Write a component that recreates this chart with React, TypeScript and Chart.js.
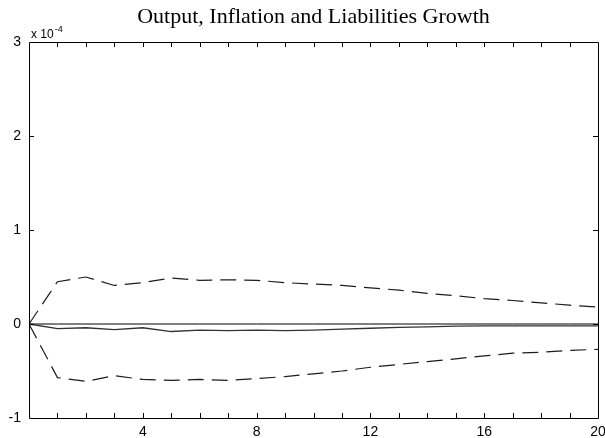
import React, { useEffect, useRef } from 'react';
import { Chart, registerables } from 'chart.js';

Chart.register(...registerables);

const periods = [0, 1, 2, 3, 4, 5, 6, 7, 8, 9, 10, 11, 12, 13, 14, 15, 16, 17, 18, 19, 20];
const responseMean = [0, -0.05, -0.04, -0.06, -0.04, -0.08, -0.065, -0.07, -0.065, -0.07, -0.065, -0.055, -0.045, -0.035, -0.03, -0.022, -0.02, -0.02, -0.02, -0.02, -0.02];
const upperBand = [0, 0.45, 0.5, 0.41, 0.44, 0.49, 0.465, 0.47, 0.465, 0.44, 0.425, 0.41, 0.385, 0.36, 0.325, 0.3, 0.27, 0.25, 0.225, 0.2, 0.18];
const lowerBand = [0, -0.57, -0.61, -0.55, -0.59, -0.6, -0.59, -0.6, -0.58, -0.56, -0.53, -0.5, -0.46, -0.43, -0.4, -0.37, -0.34, -0.31, -0.3, -0.28, -0.27];
const zeroLine = [0, 0, 0, 0, 0, 0, 0, 0, 0, 0, 0, 0, 0, 0, 0, 0, 0, 0, 0, 0, 0];
const xTickLabels = [4, 8, 12, 16, 20];
const yTickValues = [-1, 0, 1, 2, 3];
const titleText = 'Output, Inflation and Liabilities Growth';
const exponentBase = 'x 10';
const exponentPower = '-4';

const toPoints = (vals: number[]) => periods.map((p, i) => ({ x: p, y: vals[i] }));

const framePlugin = {
  id: 'matlabFrame',
  afterDraw(chart: any) {
    const { ctx, chartArea, scales } = chart;
    const xs = scales.x;
    const ys = scales.y;
    const { left, right, top, bottom } = chartArea;
    ctx.save();
    ctx.strokeStyle = '#000';
    ctx.lineWidth = 1;
    ctx.beginPath();
    ctx.rect(Math.round(left) + 0.5, Math.round(top) + 0.5, Math.round(right - left), Math.round(bottom - top));
    ctx.stroke();
    const tl = 5;
    ctx.beginPath();
    for (let v = xs.min + 1; v < xs.max; v += 1) {
      const px = Math.round(xs.getPixelForValue(v)) + 0.5;
      ctx.moveTo(px, bottom);
      ctx.lineTo(px, bottom - tl);
      ctx.moveTo(px, top);
      ctx.lineTo(px, top + tl);
    }
    for (const v of yTickValues) {
      if (v === ys.min || v === ys.max) continue;
      const py = Math.round(ys.getPixelForValue(v)) + 0.5;
      ctx.moveTo(left, py);
      ctx.lineTo(left + tl, py);
      ctx.moveTo(right, py);
      ctx.lineTo(right - tl, py);
    }
    ctx.stroke();
    // title
    ctx.fillStyle = '#000';
    ctx.font = '22px "Liberation Serif", "Times New Roman", serif';
    ctx.textAlign = 'center';
    ctx.textBaseline = 'middle';
    ctx.fillText(titleText, (left + right) / 2, 17);
    // exponent
    ctx.font = '12px "Liberation Sans", Arial, sans-serif';
    ctx.textAlign = 'left';
    ctx.textBaseline = 'alphabetic';
    ctx.fillText(exponentBase, left + 2, top - 4);
    const w = ctx.measureText(exponentBase).width;
    ctx.font = '9px "Liberation Sans", Arial, sans-serif';
    ctx.fillText(exponentPower, left + 2 + w + 1, top - 10);
    ctx.restore();
  },
};

export default function App() {
  const ref = useRef<HTMLCanvasElement | null>(null);
  useEffect(() => {
    if (!ref.current) return;
    const lineColor = '#1c1c1c';
    const chart = new Chart(ref.current, {
      type: 'line',
      data: {
        datasets: [
          { data: toPoints(upperBand), borderColor: lineColor, borderWidth: 1.2, borderDash: [16, 8], pointRadius: 0, fill: false, tension: 0 },
          { data: toPoints(lowerBand), borderColor: lineColor, borderWidth: 1.2, borderDash: [16, 8], pointRadius: 0, fill: false, tension: 0 },
          { data: toPoints(responseMean), borderColor: '#333', borderWidth: 1.3, pointRadius: 0, fill: false, tension: 0 },
          { data: toPoints(zeroLine), borderColor: '#000', borderWidth: 1, pointRadius: 0, fill: false, tension: 0 },
        ],
      },
      options: {
        responsive: false,
        animation: false,
        layout: { padding: { top: 42, left: 0, right: 7, bottom: 0 } },
        plugins: { legend: { display: false }, tooltip: { enabled: false }, title: { display: false } },
        scales: {
          x: {
            type: 'linear',
            min: 0,
            max: 20,
            grid: { display: false, drawTicks: false },
            border: { display: false },
            ticks: {
              stepSize: 4,
              autoSkip: false,
              maxRotation: 0,
              padding: 6,
              color: '#000',
              font: { family: '"Liberation Sans", Arial, sans-serif', size: 14 },
              callback: (v: any) => (xTickLabels.includes(Number(v)) ? String(v) : ''),
            },
            afterFit: (s: any) => { s.height = 20; s.paddingLeft = 0; s.paddingRight = 0; },
          },
          y: {
            type: 'linear',
            min: -1,
            max: 3,
            grid: { display: false, drawTicks: false },
            border: { display: false },
            ticks: {
              stepSize: 1,
              padding: 8,
              color: '#000',
              font: { family: '"Liberation Sans", Arial, sans-serif', size: 14 },
              callback: (v: any) => (yTickValues.includes(Number(v)) ? String(v) : ''),
            },
            afterFit: (s: any) => { s.width = 29; s.paddingTop = 0; s.paddingBottom = 0; },
          },
        },
      },
      plugins: [framePlugin],
    });
    return () => chart.destroy();
  }, []);
  return (
    <div style={{ position: 'fixed', left: 0, top: 0, width: 605, height: 438, background: '#fff' }}>
      <canvas ref={ref} width={605} height={438} />
    </div>
  );
}
